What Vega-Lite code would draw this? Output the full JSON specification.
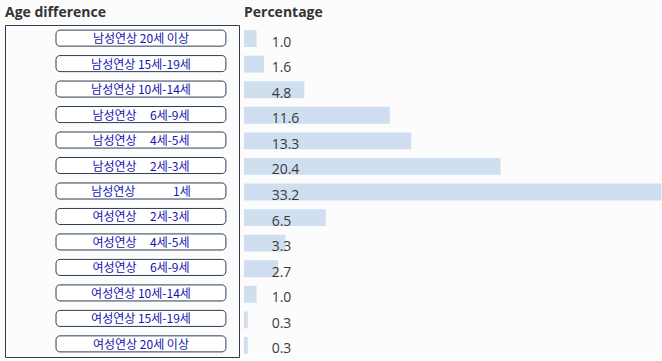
{
  "$schema": "https://vega.github.io/schema/vega-lite/v6.json",
  "background": "#fcfcfd",
  "padding": {"left": 4, "top": 5, "right": 0, "bottom": 0},
  "spacing": 4,
  "config": {
    "title": {"font": "Open Sans", "fontSize": 14, "fontWeight": "bold", "color": "#333333", "anchor": "start", "offset": 5},
    "axis": {"domain": false}
  },
  "data": {
    "values": [
      {"label": "남성연상 20세 이상", "pct": 1.0},
      {"label": "남성연상 15세-19세", "pct": 1.6},
      {"label": "남성연상 10세-14세", "pct": 4.8},
      {"label": "남성연상\u00a0\u00a0\u00a0\u00a0\u00a06세-9세", "pct": 11.6},
      {"label": "남성연상\u00a0\u00a0\u00a0\u00a0\u00a04세-5세", "pct": 13.3},
      {"label": "남성연상\u00a0\u00a0\u00a0\u00a0\u00a02세-3세", "pct": 20.4},
      {"label": "남성연상\u00a0\u00a0\u00a0\u00a0\u00a0\u00a0\u00a0\u00a0\u00a0\u00a0\u00a0\u00a0\u00a0\u00a01세", "pct": 33.2},
      {"label": "여성연상\u00a0\u00a0\u00a0\u00a0\u00a02세-3세", "pct": 6.5},
      {"label": "여성연상\u00a0\u00a0\u00a0\u00a0\u00a04세-5세", "pct": 3.3},
      {"label": "여성연상\u00a0\u00a0\u00a0\u00a0\u00a06세-9세", "pct": 2.7},
      {"label": "여성연상 10세-14세", "pct": 1.0},
      {"label": "여성연상 15세-19세", "pct": 0.3},
      {"label": "여성연상 20세 이상", "pct": 0.3}
    ]
  },
  "hconcat": [
    {
      "width": 234,
      "height": 332,
      "title": {"text": "Age difference"},
      "view": {"stroke": "#2c3e50", "strokeWidth": 1, "fill": "#fcfcfd"},
      "encoding": {
        "y": {"field": "label", "type": "nominal", "sort": null, "axis": null,
              "scale": {"paddingInner": 0.37, "paddingOuter": 0.2}}
      },
      "layer": [
        {
          "mark": {"type": "rect", "cornerRadius": 4, "fill": "#ffffff", "stroke": "#2c3e50", "strokeWidth": 1},
          "encoding": {
            "x": {"datum": 0.218, "type": "quantitative", "scale": {"domain": [0, 1], "nice": false}, "axis": null},
            "x2": {"datum": 0.944}
          }
        },
        {
          "mark": {"type": "text", "font": "Noto Sans CJK KR", "fontSize": 12, "color": "#1414b0", "align": "center", "baseline": "middle", "dy": 1},
          "encoding": {
            "x": {"datum": 0.581, "type": "quantitative"},
            "text": {"field": "label"}
          }
        }
      ]
    },
    {
      "width": 420,
      "height": 334,
      "title": {"text": "Percentage"},
      "view": {"stroke": null},
      "encoding": {
        "y": {"field": "label", "type": "nominal", "sort": null, "axis": null,
              "scale": {"paddingInner": 0.34, "paddingOuter": 0.2}}
      },
      "layer": [
        {
          "mark": {"type": "bar", "color": "#cfdff0"},
          "encoding": {
            "x": {"field": "pct", "type": "quantitative", "scale": {"domain": [0, 33.4], "nice": false}, "axis": null}
          }
        },
        {
          "mark": {"type": "text", "font": "Open Sans", "fontSize": 14, "color": "#3a3a3a", "align": "left", "baseline": "middle", "dy": 4},
          "encoding": {
            "x": {"datum": 2.2, "type": "quantitative"},
            "text": {"field": "pct", "type": "quantitative", "format": ".1f"}
          }
        }
      ]
    }
  ]
}
